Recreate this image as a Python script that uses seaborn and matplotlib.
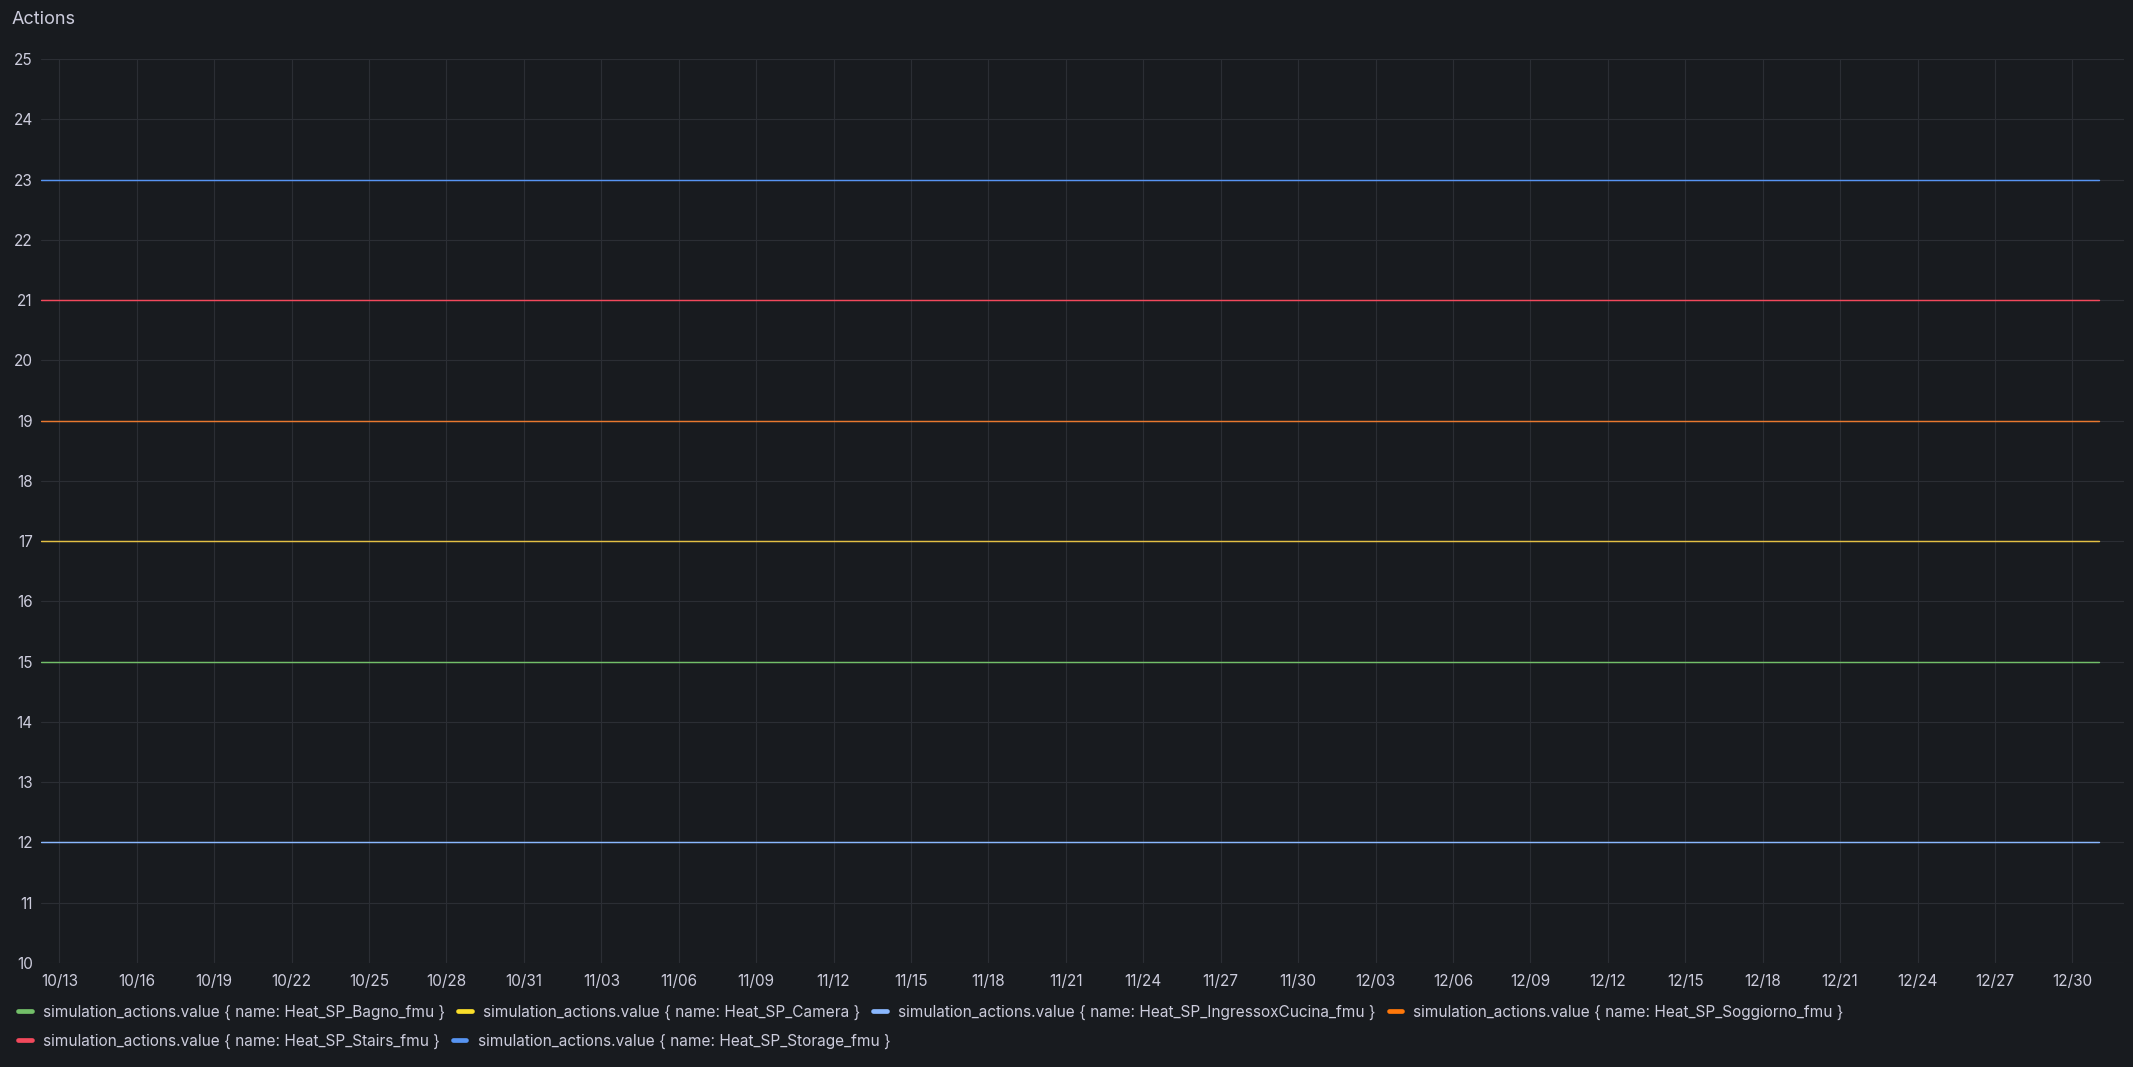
import matplotlib
matplotlib.use("Agg")
import matplotlib.pyplot as plt
import matplotlib.dates as mdates
from matplotlib.lines import Line2D
import seaborn as sns
import pandas as pd
import numpy as np

# ---- data ----
series_names = [
    "simulation_actions.value { name: Heat_SP_Bagno_fmu }",
    "simulation_actions.value { name: Heat_SP_Camera }",
    "simulation_actions.value { name: Heat_SP_IngressoxCucina_fmu }",
    "simulation_actions.value { name: Heat_SP_Soggiorno_fmu }",
    "simulation_actions.value { name: Heat_SP_Stairs_fmu }",
    "simulation_actions.value { name: Heat_SP_Storage_fmu }",
]
series_values = [15, 17, 12, 19, 21, 23]
series_colors = ["#73BF69", "#FADE2A", "#8AB8FF", "#FF780A", "#F2495C", "#5794F2"]
line_colors = ["#73BF69", "#E3C044", "#8AB8FF", "#E8782F", "#F2495C", "#5794F2"]
data_start = "2023-10-12 07:00"
data_end = "2023-12-31 01:00"
view_start = "2023-10-12 07:00"
view_end = "2024-01-01 00:00"
tick_dates = pd.date_range("2023-10-13", "2023-12-30", freq="3D")
y_ticks = list(range(10, 26))

times = pd.date_range(data_start, data_end, freq="6h")
frames = []
for name, val in zip(series_names, series_values):
    frames.append(pd.DataFrame({"time": times, "value": [val] * len(times), "series": name}))
df = pd.concat(frames, ignore_index=True)

# ---- style ----
BG = "#181B1F"
TXT = "#CCCCDC"
GRID = "#2B2E34"
sns.set_theme(style="dark")
plt.rcParams["font.family"] = ["Inter", "DejaVu Sans"]

W, H = 2133, 1067
fig = plt.figure(figsize=(W / 100, H / 100), dpi=100, facecolor=BG)
ax = fig.add_axes([41 / W, 1 - 963 / H, (2124 - 41) / W, (963 - 59) / H], facecolor=BG)

palette = dict(zip(series_names, line_colors))
sns.lineplot(data=df, x="time", y="value", hue="series", palette=palette,
             hue_order=series_names, ax=ax, linewidth=1.05, legend=False)

ax.set_xlim(pd.Timestamp(view_start), pd.Timestamp(view_end))
ax.set_ylim(10, 25)
ax.set_yticks(y_ticks)
ax.set_xticks(tick_dates)
ax.xaxis.set_major_formatter(mdates.DateFormatter("%m/%d"))
ax.set_xlabel("")
ax.set_ylabel("")
for s in ax.spines.values():
    s.set_visible(False)
ax.grid(True, color=GRID, linewidth=0.8)
ax.set_axisbelow(True)
ax.tick_params(axis="both", colors=TXT, labelsize=11, length=0)
ax.tick_params(axis="y", pad=6)
ax.tick_params(axis="x", pad=8)

fig.text(12 / W, 1 - 19 / H, "Actions", color=TXT, fontsize=13, va="center", ha="left")

# legend as two flowing rows
def make_handles(idx):
    return [Line2D([0], [0], color=series_colors[i], lw=3.4, solid_capstyle="round") for i in idx]

row1 = [0, 1, 2, 3]
row2 = [4, 5]
common = dict(frameon=False, loc="center left", borderpad=0, borderaxespad=0,
              handlelength=0.86, handletextpad=0.74, columnspacing=0.85,
              fontsize=11.1, labelcolor=TXT)
leg1 = fig.legend(make_handles(row1), [series_names[i] for i in row1], ncol=4,
                  bbox_to_anchor=(18.4 / W, 1 - 1012 / H), **common)
leg2 = fig.legend(make_handles(row2), [series_names[i] for i in row2], ncol=2,
                  bbox_to_anchor=(18.4 / W, 1 - 1041 / H), **common)

fig.savefig("out.png", dpi=100, facecolor=BG)
